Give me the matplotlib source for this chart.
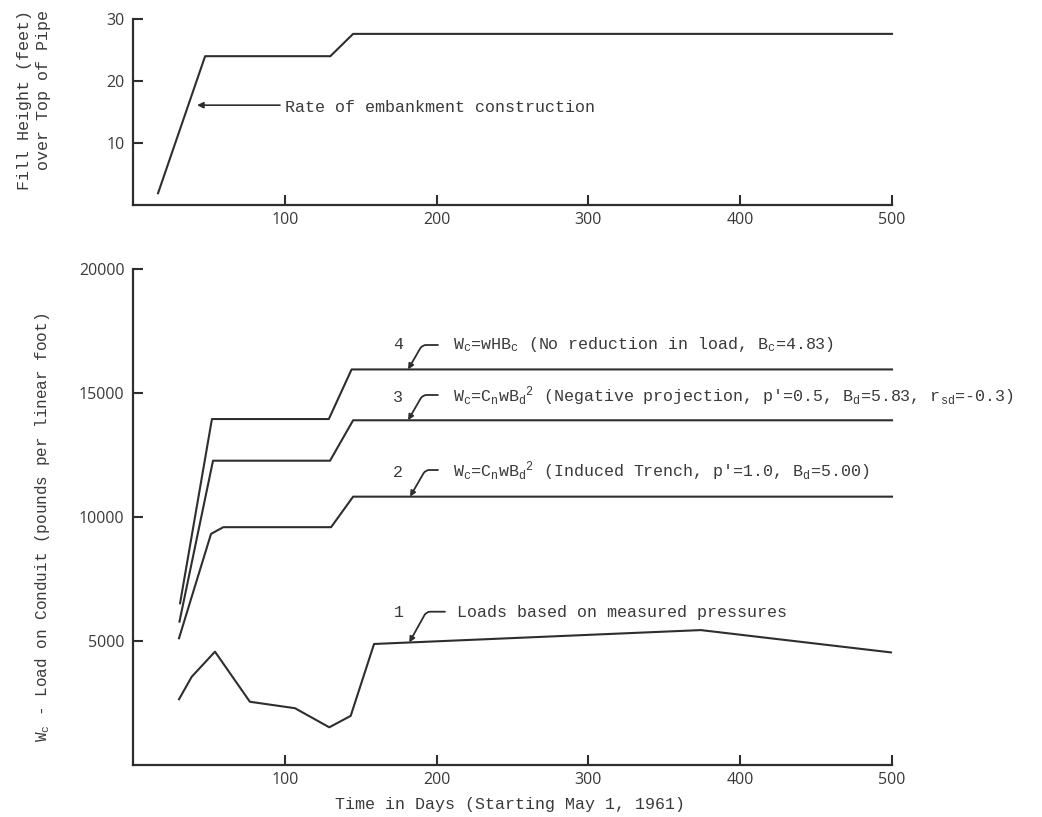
import matplotlib
matplotlib.use("Agg")
import matplotlib.pyplot as plt

# ---------------- data ----------------
fill_days = [16.5, 47.5, 130, 145, 500]
fill_height = [1.9, 24.0, 24.0, 27.6, 27.6]

load4_days = [31, 52, 129, 144, 500]
load4 = [6520, 13950, 13950, 15950, 15950]
load3_days = [30.6, 52.7, 129.8, 145, 500]
load3 = [5780, 12270, 12270, 13900, 13900]
load2_days = [30.3, 51.4, 59.5, 130.5, 145, 500]
load2 = [5110, 9320, 9590, 9590, 10820, 10820]
load1_days = [30.3, 38.7, 54, 77, 106.7, 129.3, 143.4, 158.8, 374, 499.3]
load1 = [2650, 3560, 4570, 2550, 2290, 1520, 1980, 4880, 5440, 4540]

x_ticks = [100, 200, 300, 400, 500]
top_yticks = [10, 20, 30]
bot_yticks = [5000, 10000, 15000, 20000]

labels = ["1", "2", "3", "4"]
texts = [
    "Loads based on measured pressures",
    "W$_c$=C$_n$wB$_d$$^2$ (Induced Trench, p'=1.0, B$_d$=5.00)",
    "W$_c$=C$_n$wB$_d$$^2$ (Negative projection, p'=0.5, B$_d$=5.83, r$_{sd}$=-0.3)",
    "W$_c$=wHB$_c$ (No reduction in load, B$_c$=4.83)",
]

# ---------------- style ----------------
plt.rcParams['mathtext.fontset'] = 'custom'
plt.rcParams['mathtext.rm'] = 'Liberation Mono'
plt.rcParams['mathtext.it'] = 'Liberation Mono'
plt.rcParams['mathtext.bf'] = 'Liberation Mono'

LINE = '#2e2e2e'
TXT = '#3a3a3a'
MONO = 'Liberation Mono'
TICKF = 'Open Sans'

W, H = 1042, 817
fig = plt.figure(figsize=(W / 100, H / 100), dpi=100)


def px_axes(left, right, bottom, top):
    return fig.add_axes([left / W, 1 - bottom / H, (right - left) / W, (bottom - top) / H])


def style(ax, yt, ymax):
    for s in ['top', 'right']:
        ax.spines[s].set_visible(False)
    for s in ['left', 'bottom']:
        ax.spines[s].set_linewidth(1.6)
        ax.spines[s].set_color(LINE)
    ax.set_xlim(0, 500)
    ax.set_ylim(0, ymax)
    ax.set_xticks(x_ticks)
    ax.set_yticks(yt)
    ax.tick_params(direction='in', length=7, width=1.5, color=LINE,
                   labelcolor=TXT, labelsize=11.5)
    ax.tick_params(axis='y', pad=6)
    ax.tick_params(axis='x', pad=5)
    for lab in ax.get_xticklabels() + ax.get_yticklabels():
        lab.set_fontfamily(TICKF)


# ---------------- top chart ----------------
ax1 = px_axes(133, 892, 205, 19)
style(ax1, top_yticks, 30)
ax1.plot(fill_days, fill_height, color=LINE, lw=1.5, clip_on=False)
ax1.annotate('', xy=(42.2, 16.1), xytext=(96.8, 16.1),
             arrowprops=dict(arrowstyle='-|>', color=LINE, lw=1.2,
                             mutation_scale=9, shrinkA=0, shrinkB=0))
ax1.text(100.3, 15.05, "Rate of embankment construction", family=MONO,
         fontsize=12, color=TXT, ha='left', va='baseline')

fig.text(25 / W, 1 - 10 / H, "Fill Height (feet)", rotation=90, family=MONO,
         fontsize=12, color=TXT, ha='center', va='top')
fig.text(44 / W, 1 - 10 / H, "over Top of Pipe", rotation=90, family=MONO,
         fontsize=12, color=TXT, ha='center', va='top')

# ---------------- bottom chart ----------------
ax2 = px_axes(133, 892, 765, 269)
style(ax2, bot_yticks, 20000)
for d, v in [(load1_days, load1), (load2_days, load2),
             (load3_days, load3), (load4_days, load4)]:
    ax2.plot(d, v, color=LINE, lw=1.5, clip_on=False)

# leader annotations: (label x, baseline y, horiz-end x, horiz y, tip x, tip y, text x, angleB)
leaders = [
    (175.2, 5956, 205.5, 6181, 182.0, 4940, 213.2, 61),
    (174.6, 11625, 200.9, 11895, 182.5, 10820, 210.8, 60),
    (174.6, 14649, 200.9, 14919, 181.2, 13900, 210.8, 60),
    (174.6, 16774, 200.9, 16935, 181.2, 15950, 210.8, 60),
]
for lab, txt, (lx, ly, hx, hy, tx, ty, sx, ang) in zip(labels, texts, leaders):
    ax2.text(lx, ly, lab, family=MONO, fontsize=12, color=TXT,
             ha='center', va='baseline')
    ax2.annotate('', xy=(tx, ty), xytext=(hx, hy),
                 arrowprops=dict(arrowstyle='-|>', color=LINE, lw=1.3,
                                 mutation_scale=8, shrinkA=0, shrinkB=0,
                                 connectionstyle=f'angle,angleA=0,angleB={ang},rad=4'))
    ax2.text(sx, ly, txt, family=MONO, fontsize=12, color=TXT,
             ha='left', va='baseline')

fig.text(43 / W, 1 - 527 / H, "W$_c$ - Load on Conduit (pounds per linear foot)",
         rotation=90, family=MONO, fontsize=11.5, color=TXT, ha='center', va='center')
fig.text(510 / W, 1 - 805 / H, "Time in Days (Starting May 1, 1961)",
         family=MONO, fontsize=12, color=TXT, ha='center', va='center')

fig.savefig("out.png", dpi=100, facecolor='white')
